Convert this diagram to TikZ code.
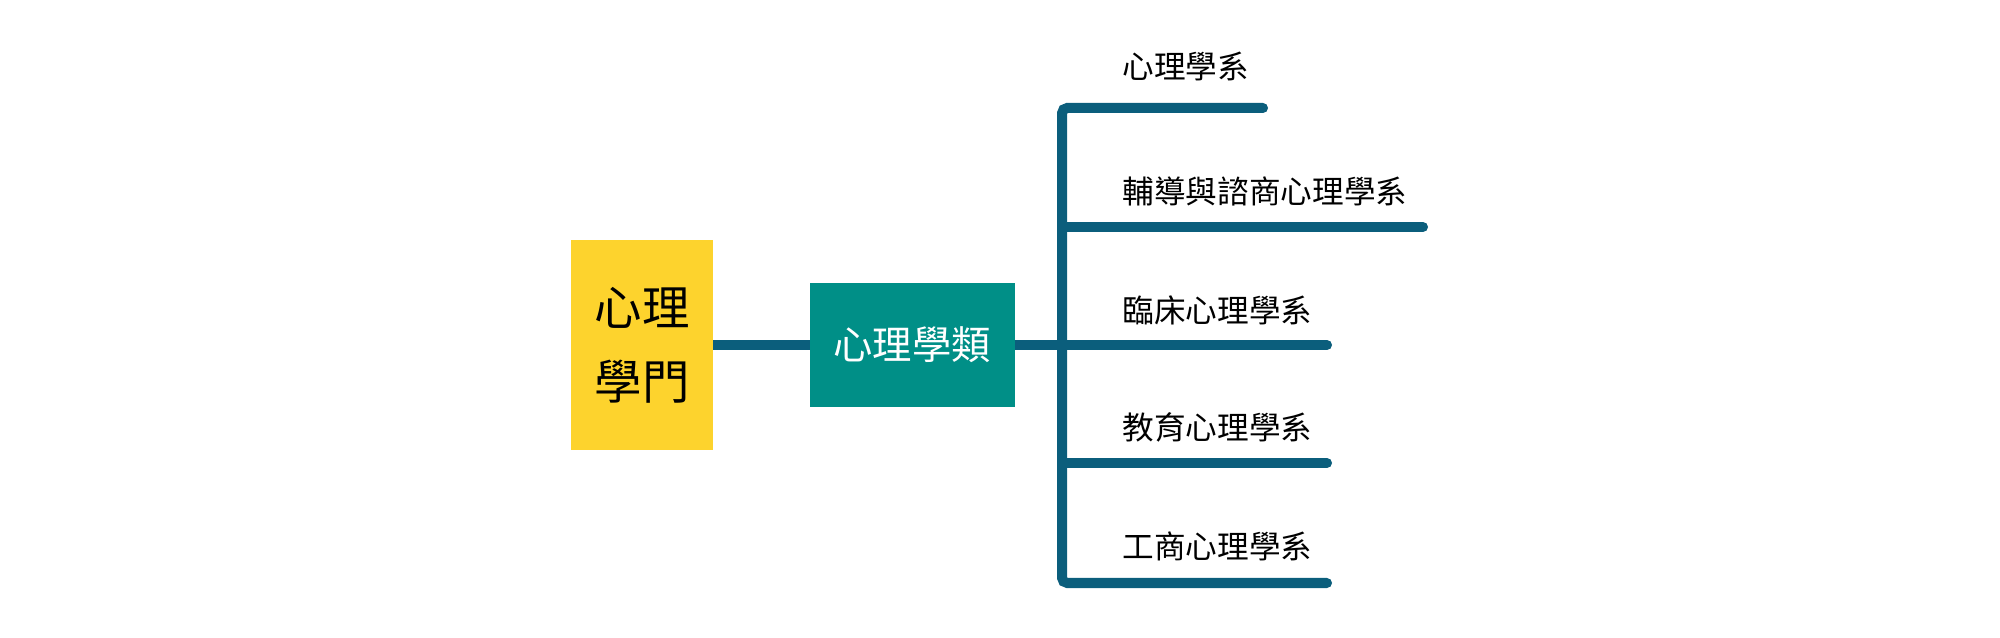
\documentclass[tikz,border=0pt]{standalone}
\usepackage{fontspec}
\setmainfont{Noto Sans CJK TC}
\usepackage{tikz}

\definecolor{gold}{HTML}{FDD32D}
\definecolor{teal}{HTML}{008F87}
\definecolor{linkblue}{HTML}{0B5E7C}

\tikzset{
  link/.style={linkblue,line width=2.85pt,line cap=round},
  dept/.style={anchor=west,inner sep=0pt,font=\fontsize{9}{10}\selectfont}
}

\begin{document}
\begin{tikzpicture}
\useasboundingbox (0,0) rectangle (20,6.38);
\node[fill=gold,outer sep=0pt,minimum width=1.42cm,minimum height=2.10cm,align=center,font=\fontsize{13.5}{21}\selectfont] (men) at (6.42,2.93) {心理\\學門};
\node[fill=teal,outer sep=0pt,text=white,minimum width=2.05cm,minimum height=1.24cm,font=\fontsize{11.2}{13}\selectfont] (lei) at (9.12,2.93) {心理學類};

\coordinate (hub) at (10.62,2.93);
\coordinate (top) at (10.62,5.30);
\coordinate (bot) at (10.62,0.55);
\coordinate (b1) at (12.63,5.30);
\coordinate (a2) at (10.62,4.11);
\coordinate (b2) at (14.23,4.11);
\coordinate (b3) at (13.27,2.93);
\coordinate (a4) at (10.62,1.75);
\coordinate (b4) at (13.27,1.75);
\coordinate (b5) at (13.27,0.55);

\draw[link,line cap=butt] (men.east) -- (lei.west);
\draw[link,line cap=butt] (lei.east) -- (hub);
\draw[link,rounded corners=1.5pt] (b1) -- (top) -- (bot) -- (b5);
\draw[link] (a2) -- (b2);
\draw[link] (hub) -- (b3);
\draw[link] (a4) -- (b4);

\node[dept] (d1) at (11.22,5.72) {心理學系};
\node[dept] (d2) at (11.22,4.47) {輔導與諮商心理學系};
\node[dept] (d3) at (11.22,3.28) {臨床心理學系};
\node[dept] (d4) at (11.22,2.11) {教育心理學系};
\node[dept] (d5) at (11.22,0.92) {工商心理學系};

\end{tikzpicture}
\end{document}
